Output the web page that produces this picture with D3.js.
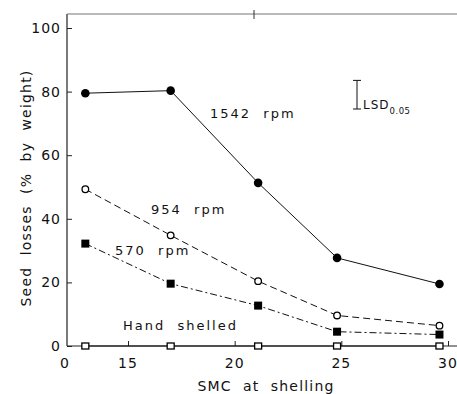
<!DOCTYPE html>
<html><head><meta charset="utf-8">
<script src="https://cdn.jsdelivr.net/npm/d3@7"></script>
<style>
html,body{margin:0;padding:0;background:#fff;}
svg{display:block;}
text{font-family:"DejaVu Sans",sans-serif;fill:#111;white-space:pre;}
</style></head>
<body>
<svg id="c" width="457" height="394"></svg>
<script>
const smc      = [13.0, 17.0, 21.1, 24.8, 29.6];
const rpm1542  = [79.5, 80.3, 51.3, 27.7, 19.5];
const rpm954   = [49.3, 34.8, 20.4, 9.6, 6.4];
const rpm570   = [32.2, 19.6, 12.7, 4.5, 3.6];
const hand     = [0, 0, 0, 0, 0];
const xTicks   = [15, 20, 25, 30];
const yTicks   = [0, 20, 40, 60, 80, 100];
const lsd      = 9;

const svg = d3.select("#c");
const x = d3.scaleLinear().domain([15, 30]).range([128, 448]);
const y = d3.scaleLinear().domain([0, 100]).range([346, 28]);
const x0 = 67, xEnd = 457, yTop = 14;

// frame
svg.append("line").attr("x1", x0).attr("x2", x0).attr("y1", y(0)).attr("y2", yTop).attr("stroke", "#222").attr("stroke-width", 1.2);
svg.append("line").attr("x1", x0).attr("x2", xEnd).attr("y1", y(0)).attr("y2", y(0)).attr("stroke", "#222").attr("stroke-width", 1.2);
svg.append("line").attr("x1", x0).attr("x2", xEnd).attr("y1", yTop).attr("y2", yTop).attr("stroke", "#777").attr("stroke-width", 1.2);
svg.append("line").attr("x1", 254).attr("x2", 254).attr("y1", yTop - 4).attr("y2", yTop + 5).attr("stroke", "#333");

// y axis
const yAx = svg.append("g").attr("transform", `translate(${x0},0)`)
  .call(d3.axisRight(y).tickValues(yTicks).tickSize(5).tickFormat(""));
yAx.select(".domain").remove();
yAx.selectAll(".tick line").attr("stroke", "#222");
svg.selectAll(".ylab").data(yTicks).join("text").attr("class", "ylab")
  .attr("x", 61).attr("y", d => y(d) + 5).attr("text-anchor", "end")
  .attr("font-size", 14).attr("letter-spacing", 1).text(d => d);

// x axis
const xAx = svg.append("g").attr("transform", `translate(0,${y(0)})`)
  .call(d3.axisTop(x).tickValues(xTicks).tickSize(5).tickFormat(""));
xAx.select(".domain").remove();
xAx.selectAll(".tick line").attr("stroke", "#222");
const xl = xTicks.map(d => ({v: d, px: x(d)}));
xl.unshift({v: 0, px: 65});
svg.selectAll(".xlab").data(xl).join("text").attr("class", "xlab")
  .attr("x", d => d.px).attr("y", 368).attr("text-anchor", "middle")
  .attr("font-size", 14).attr("letter-spacing", 1).text(d => d.v);

// titles
svg.append("text").attr("x", 266).attr("y", 391).attr("text-anchor", "middle")
  .attr("font-size", 14).attr("letter-spacing", 1.2).text("SMC  at  shelling");
svg.append("text").attr("transform", "translate(31,188) rotate(-90)").attr("text-anchor", "middle")
  .attr("font-size", 14).attr("letter-spacing", 1.2).text("Seed  losses  (%  by  weight)");

// series
const series = [
  {vals: hand, dash: null, marker: "osq"},
  {vals: rpm570, dash: "7,3,2,3", marker: "fsq"},
  {vals: rpm954, dash: "7,4", marker: "ocirc"},
  {vals: rpm1542, dash: null, marker: "fcirc"}
];
const line = d3.line().x(d => x(d[0])).y(d => y(d[1]));
series.forEach(s => {
  const pts = smc.map((v, i) => [v, s.vals[i]]);
  svg.append("path").attr("d", line(pts)).attr("fill", "none").attr("stroke", "#111")
    .attr("stroke-width", 1).attr("stroke-dasharray", s.dash);
  const g = svg.append("g");
  pts.forEach(p => {
    const cx = x(p[0]), cy = y(p[1]);
    if (s.marker === "fcirc") g.append("circle").attr("cx", cx).attr("cy", cy).attr("r", 4.3).attr("fill", "#000");
    if (s.marker === "ocirc") g.append("circle").attr("cx", cx).attr("cy", cy).attr("r", 3.3).attr("fill", "#fff").attr("stroke", "#000").attr("stroke-width", 1.3);
    if (s.marker === "fsq") g.append("rect").attr("x", cx - 4).attr("y", cy - 4).attr("width", 8).attr("height", 8).attr("fill", "#000");
    if (s.marker === "osq") g.append("rect").attr("x", cx - 3.5).attr("y", cy - 3).attr("width", 7).attr("height", 6).attr("fill", "#fff").attr("stroke", "#000").attr("stroke-width", 1.3);
  });
});

// labels
const lab = (t, px, py) => svg.append("text").attr("x", px).attr("y", py).attr("font-size", 13).attr("letter-spacing", 2).text(t);
lab("1542  rpm", 210, 118);
lab("954  rpm", 151, 214);
lab("570  rpm", 115, 255);
lab("Hand  shelled", 123, 330);

// LSD bar
const lx = 357, lb = 109;
const lTop = lb - (y(0) - y(lsd));
svg.append("line").attr("x1", lx).attr("x2", lx).attr("y1", lTop).attr("y2", lb).attr("stroke", "#111");
svg.append("line").attr("x1", lx - 4).attr("x2", lx + 4).attr("y1", lTop).attr("y2", lTop).attr("stroke", "#111");
svg.append("line").attr("x1", lx - 4).attr("x2", lx + 4).attr("y1", lb).attr("y2", lb).attr("stroke", "#111");
const lt = svg.append("text").attr("x", 363).attr("y", lb).attr("font-size", 12).attr("letter-spacing", 1);
lt.append("tspan").text("LSD");
lt.append("tspan").attr("font-size", 8.5).attr("dy", 5).attr("letter-spacing", 0.5).text("0.05");
</script>
</body></html>
